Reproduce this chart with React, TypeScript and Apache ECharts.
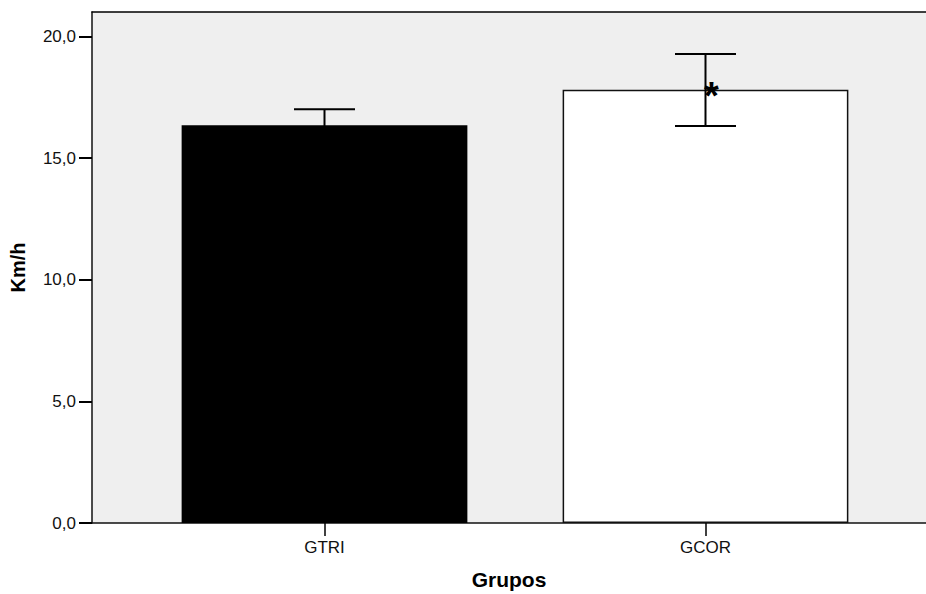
import React, { useEffect, useRef } from "react";
import * as echarts from "echarts";

const categories = ["GTRI", "GCOR"];
const means = [16.35, 17.8];
const upper = [17.0, 19.27];
const lower = [15.7, 16.32];
const marks = ["", "*"];
const barColors = ["#000000", "#ffffff"];
const yTicks = [0, 5, 10, 15, 20];

const FONT = "'Liberation Sans', Arial, sans-serif";

export default function App() {
  const ref = useRef<HTMLDivElement>(null);
  useEffect(() => {
    if (!ref.current) return;
    const chart = echarts.init(ref.current, null, { renderer: "svg" });
    const top = 12;
    const bottom = 71;
    chart.setOption({
      animation: false,
      textStyle: { fontFamily: FONT },
      grid: [
        { left: 134, right: 30, top, bottom, containLabel: false, outerBoundsMode: "none" },
        {
          left: 92,
          right: 0,
          top,
          bottom,
          show: true,
          backgroundColor: "#efefef",
          borderWidth: 0,
          z: 0,
          containLabel: false,
          outerBoundsMode: "none",
        },
      ],
      xAxis: [
        {
          type: "category",
          gridIndex: 0,
          data: categories,
          axisLine: { show: false },
          axisTick: {
            show: true,
            alignWithLabel: true,
            length: 13,
            lineStyle: { color: "#000", width: 1.5 },
          },
          axisLabel: { color: "#111", fontSize: 17, margin: 16, fontFamily: FONT },
          splitLine: { show: false },
        },
        {
          type: "value",
          gridIndex: 1,
          position: "bottom",
          min: 0,
          max: 1,
          axisLine: { show: true, onZero: false, lineStyle: { color: "#111", width: 1.5 } },
          axisTick: { show: false },
          axisLabel: { show: false },
          splitLine: { show: false },
          name: "Grupos",
          nameLocation: "middle",
          nameGap: 46,
          nameTextStyle: { fontSize: 21, fontWeight: "bold", color: "#000", fontFamily: FONT },
        },
        {
          type: "value",
          gridIndex: 1,
          position: "top",
          min: 0,
          max: 1,
          axisLine: { show: true, onZero: false, lineStyle: { color: "#000", width: 1.5 } },
          axisTick: { show: false },
          axisLabel: { show: false },
          splitLine: { show: false },
        },
      ],
      yAxis: [
        {
          type: "value",
          gridIndex: 0,
          min: 0,
          max: 21,
          show: false,
        },
        {
          type: "value",
          gridIndex: 1,
          min: 0,
          max: 21,
          interval: 5,
          axisLine: { show: true, onZero: false, lineStyle: { color: "#111", width: 1.5 } },
          axisTick: { show: true, length: 13, lineStyle: { color: "#000", width: 2 } },
          axisLabel: {
            color: "#111",
            fontSize: 17,
            margin: 16,
            fontFamily: FONT,
            showMaxLabel: false,
            formatter: (v: number) =>
              yTicks.includes(v) ? v.toFixed(1).replace(".", ",") : "",
          },
          splitLine: { show: false },
          name: "Km/h",
          nameLocation: "middle",
          nameGap: 64,
          nameRotate: 90,
          nameTextStyle: { fontSize: 20, fontWeight: "bold", color: "#000", fontFamily: FONT },
        },
      ],
      series: [
        {
          type: "bar",
          xAxisIndex: 0,
          yAxisIndex: 0,
          barWidth: "75%",
          z: 3,
          data: means.map((v, i) => ({
            value: v,
            itemStyle: {
              color: barColors[i],
              borderColor: "#111",
              borderWidth: i === 1 ? 1.5 : 0,
            },
          })),
        },
        {
          type: "custom",
          xAxisIndex: 0,
          yAxisIndex: 0,
          z: 5,
          data: categories.map((c, i) => [i, lower[i], upper[i], means[i]]),
          renderItem: (params: any, api: any) => {
            const idx = api.value(0);
            const lo = api.coord([idx, api.value(1)]);
            const hi = api.coord([idx, api.value(2)]);
            const mid = api.coord([idx, api.value(3)]);
            const half = 30.5;
            const style = { stroke: "#000", lineWidth: 2 };
            const children: any[] = [
              { type: "line", shape: { x1: hi[0], y1: hi[1], x2: lo[0], y2: lo[1] }, style },
              { type: "line", shape: { x1: hi[0] - half, y1: hi[1], x2: hi[0] + half, y2: hi[1] }, style },
              { type: "line", shape: { x1: lo[0] - half, y1: lo[1], x2: lo[0] + half, y2: lo[1] }, style },
            ];
            const m = marks[params.dataIndex];
            if (m) {
              children.push({
                type: "text",
                x: mid[0] + 6,
                y: mid[1] + 6,
                style: {
                  text: m,
                  fill: "#000",
                  font: `bold 38px ${FONT}`,
                  align: "center",
                  verticalAlign: "middle",
                },
              });
            }
            return { type: "group", children };
          },
        },
      ],
    });
    return () => chart.dispose();
  }, []);
  return (
    <div
      ref={ref}
      style={{ position: "fixed", left: 0, top: 0, width: 926, height: 594, background: "#fff" }}
    />
  );
}
